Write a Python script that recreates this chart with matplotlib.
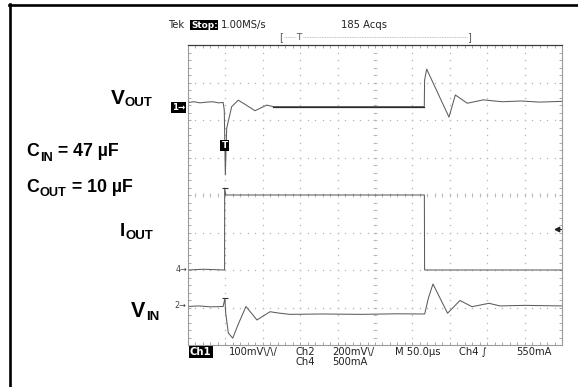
import matplotlib
matplotlib.use("Agg")
import matplotlib.pyplot as plt
import numpy as np
from matplotlib.lines import Line2D

W, H = 578, 387
DPI = 100

# ── Captured waveforms ───────────────────────────────────────────────────
# time base: 50 µs/div, 10 divisions across the screen
vout_t = [0, 8, 16, 25, 33, 41, 47.0, 48.5, 49.9, 51.7, 58.4, 67.2, 73.9, 89.6,
          105.2, 114, 160, 220, 280, 315.9, 316.3, 319.1, 348.9, 357.4, 373.4,
          394.8, 420, 445, 470, 500]
vout_mv = [0, 2, -1, 1, 2, -1, 0, -20, -193, -69, -11, 6, -2, -22,
           -7, -11, -11, -11, -11, -11, 60, 89, -39, 20, -2,
           7, 2, 4, 1, 3]

iout_t = [0, 20, 48.9, 49.0, 50.6, 120, 200, 316.0, 316.3, 400, 500]
iout_a = [0, 0.01, 0, 1.09, 1.0, 1.0, 1.0, 1.0, 0, 0, 0]

vin_t = [0, 15, 30, 47.0, 49.3, 50.4, 53.9, 59.8, 66.8, 77.5, 92.2, 109.6, 123,
         136.4, 180, 230, 280, 316.2, 316.6, 321.3, 327.5, 347, 363.6, 379.7,
         402.4, 417, 450, 500]
vin_mv = [0, 3, -2, 0, 43, -35, -141, -169, -98, 0, -72, -28, -36,
          -42, -40, -42, -39, -40, -37, 44, 120, -36, 32, -1,
          17, 3, 6, 3]

# channel scales and screen positions (divisions from centre)
VOUT_SCALE_MV = 100.0
IIN_SCALE_A = 0.5
VIN_SCALE_MV = 200.0
VOUT_POS, IOUT_POS, VIN_POS = 2.467, -2.0, -2.973
TRIG_LEVEL_A = 0.55

TRACE = "#5c5c5c"
GRID = "#b3b3b3"
TXT = "#222222"


def px(x, y):
    """Image pixel position -> figure fraction."""
    return x / W, 1 - y / H


fig = plt.figure(figsize=(W / DPI, H / DPI), dpi=DPI)
fig.patch.set_facecolor("white")
renderer = fig.canvas.get_renderer()

# scope screen area
ax = fig.add_axes([188 / W, 1 - 345 / H, 374 / W, 300 / H])
ax.set_xlim(0, 500)
ax.set_ylim(-4, 4)
ax.set_facecolor("white")
for side in ("left", "right", "bottom"):
    ax.spines[side].set_color("#9a9a9a")
    ax.spines[side].set_linewidth(0.8)
ax.spines["top"].set_color("#3a3a3a")
ax.spines["top"].set_linewidth(0.9)
ax.set_xticks(np.arange(0, 501, 10))
ax.set_yticks(np.arange(-4, 4.01, 0.2))
ax.tick_params(direction="in", length=2.2, width=0.6, color="#9a9a9a",
               top=True, right=True, labelbottom=False, labelleft=False)

# dotted graticule
minor_x = np.arange(0, 501, 10)
minor_y = np.arange(-4, 4.01, 0.2)
for gx in range(50, 500, 50):
    ax.plot(np.full_like(minor_y, gx), minor_y, ls="none", marker="s", ms=0.9,
            mew=0, color=GRID)
for gy in range(-3, 4):
    ax.plot(minor_x, np.full_like(minor_x, gy, dtype=float), ls="none", marker="s",
            ms=0.9, mew=0, color=GRID)
# centre cross with minor ticks
ax.plot(minor_x, np.zeros_like(minor_x, dtype=float), ls="none", marker="|",
        ms=3.5, mew=0.6, color=GRID)
ax.plot(np.full_like(minor_y, 250), minor_y, ls="none", marker="_",
        ms=3.5, mew=0.6, color=GRID)

# traces
vout = VOUT_POS + np.array(vout_mv) / VOUT_SCALE_MV
iout = IOUT_POS + np.array(iout_a) / IIN_SCALE_A
vin = VIN_POS + np.array(vin_mv) / VIN_SCALE_MV
vout_t = np.array(vout_t)
ax.plot(vout_t, vout, color=TRACE, lw=0.75)
mid = (vout_t >= 114) & (vout_t <= 315.9)
ax.plot(vout_t[mid], vout[mid], color="#2a2a2a", lw=0.9)
ax.plot(iout_t, iout, color=TRACE, lw=0.75)
ax.plot(vin_t, vin, color=TRACE, lw=0.75)

# edge overshoot caps
ax.plot(iout_t[3], iout[3], marker="_", ms=5, mew=0.8, color="#333333")
ax.plot(vin_t[4], vin[4], marker="_", ms=5, mew=0.8, color="#333333")

# trigger level indicator on the right edge
lvl = IOUT_POS + TRIG_LEVEL_A / IIN_SCALE_A
ax.plot([493], [lvl], marker="<", ms=3.2, color="#222222", clip_on=False)
ax.plot([493, 498], [lvl, lvl], color="#222222", lw=0.7, clip_on=False)

# trigger point marker on CH1
ax.text(49.0, VOUT_POS - 1.15, "T", fontsize=6.5, fontweight="bold", color="white",
        ha="center", va="center",
        bbox=dict(boxstyle="square,pad=0.15", fc="black", ec="none"))

# channel ground markers
fig.text(*px(178.5, 107.5), "1\u2192", fontsize=6.2, fontweight="bold", color="white",
         ha="center", va="center",
         bbox=dict(boxstyle="square,pad=0.12", fc="black", ec="none"))
fig.text(*px(181, 269.5), "4\u2192", fontsize=5.8, color="#444444",
         ha="center", va="center")
fig.text(*px(180, 306), "2\u2192", fontsize=5.8, color="#444444",
         ha="center", va="center")

# status line and record bracket
scope_font = dict(fontsize=7.2, color=TXT, va="center", ha="left", family="DejaVu Sans")
fig.text(*px(168, 25), "Tek", **scope_font)
fig.text(*px(191, 25), "Stop:", fontsize=6.4, fontweight="bold", color="white",
         va="center", ha="left",
         bbox=dict(boxstyle="square,pad=0.08", fc="black", ec="none"))
fig.text(*px(221, 25), "1.00MS/s", **scope_font)
fig.text(*px(341, 25), "185 Acqs", **scope_font)
fig.text(*px(281, 37), "[", fontsize=7, color="#555555", va="center", ha="center")
fig.text(*px(469, 37), "]", fontsize=7, color="#555555", va="center", ha="center")
fig.text(*px(299, 37), "T", fontsize=6.5, color="#555555", va="center", ha="center")
fig.add_artist(Line2D([284 / W, 295 / W], [1 - 37 / H] * 2, color="#aaaaaa",
                      lw=0.6, ls=(0, (1, 1))))
fig.add_artist(Line2D([303 / W, 467 / W], [1 - 37 / H] * 2, color="#aaaaaa",
                      lw=0.6, ls=(0, (1, 1))))

# bottom readout
fig.text(*px(190, 352), "Ch1", fontsize=7.2, fontweight="bold", color="white",
         va="center", ha="left",
         bbox=dict(boxstyle="square,pad=0.1", fc="black", ec="none"))
fig.text(*px(229, 352), "100mV\\/\\/", **scope_font)
fig.text(*px(295, 352), "Ch2", **scope_font)
fig.text(*px(332, 352), "200mV\\/", **scope_font)
fig.text(*px(395, 352), "M 50.0\u00b5s", **scope_font)
fig.text(*px(459, 352), "Ch4 \u222b", **scope_font)
fig.text(*px(516, 352), "550mA", **scope_font)
fig.text(*px(295, 362), "Ch4", **scope_font)
fig.text(*px(332, 362), "500mA", **scope_font)


# annotation labels with subscripts
def sub_label(x, y, main, sub, tail="", size=14.5, sub_size=9, drop=4):
    kw = dict(fontweight="bold", va="baseline", ha="left", color="black",
              family="Liberation Sans")
    t = fig.text(*px(x, y), main, fontsize=size, **kw)
    x1 = t.get_window_extent(renderer).x1
    s = fig.text(*px(x1 + 0.5, y + drop), sub, fontsize=sub_size, **kw)
    if tail:
        x2 = s.get_window_extent(renderer).x1
        fig.text(*px(x2, y), tail, fontsize=size, **kw)


sub_label(110.5, 104, "V", "OUT", size=15, sub_size=9.5, drop=2.5)
sub_label(26.5, 156.5, "C", "IN", " = 47 \u00b5F", size=12.8, sub_size=9.2, drop=4.5)
sub_label(26.5, 191.5, "C", "OUT", " = 10 \u00b5F", size=12.8, sub_size=9.2, drop=4.5)
sub_label(120, 236, "I", "OUT", size=13.5, sub_size=9.5, drop=3)
sub_label(131, 317, "V", "IN", size=15.5, sub_size=9.5, drop=3)

# page frame (left and top edges)
fig.add_artist(Line2D([10 / W, 10 / W], [1 - 4 / H, 0], color="black", lw=1.9))
fig.add_artist(Line2D([9 / W, 1], [1 - 5 / H, 1 - 5 / H], color="black", lw=1.9))

fig.savefig("out.png", dpi=DPI, facecolor="white")
